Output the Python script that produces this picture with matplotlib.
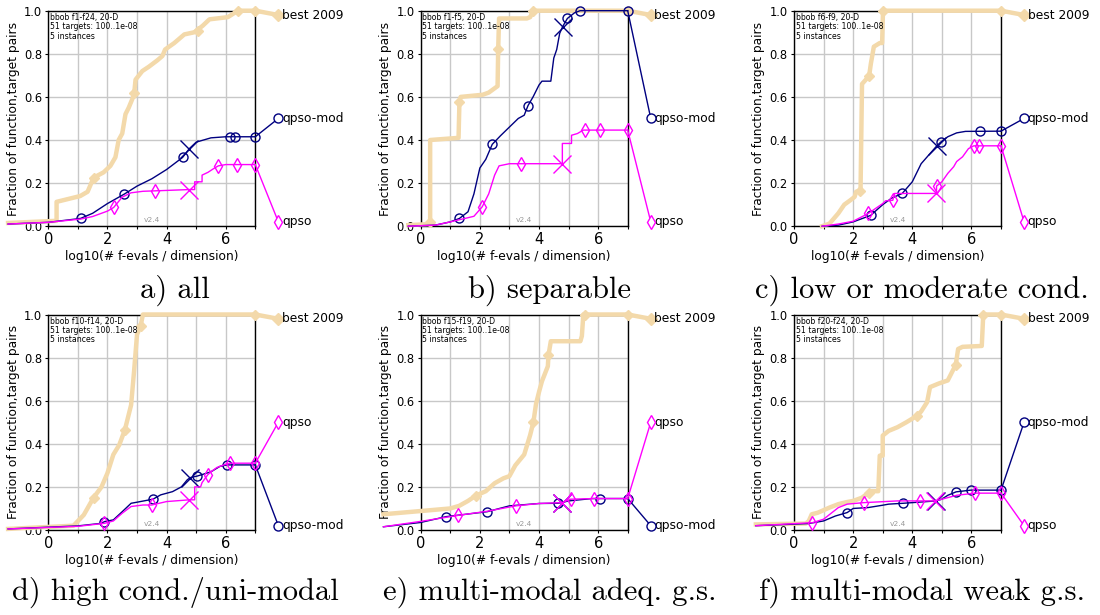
import matplotlib
matplotlib.use("Agg")
import matplotlib.pyplot as plt

# ---------------- data ----------------
# panel a) all
A_BEST = [(-1.36,0.015),(0.28,0.025),(0.28,0.113),(1.08,0.14),(1.33,0.16),(1.53,0.225),(1.87,0.25),(2.1,0.28),
          (2.27,0.32),(2.38,0.40),(2.5,0.43),(2.61,0.52),(2.72,0.55),(2.9,0.61),(2.95,0.68),(3.18,0.72),(3.4,0.74),
          (3.69,0.77),(3.86,0.79),(3.95,0.82),(4.26,0.85),(4.43,0.87),(4.6,0.89),(4.94,0.9),(5.22,0.93),(5.45,0.96),
          (6.07,0.97),(6.3,0.99),(6.41,1.0),(7,1.0)]
A_BEST_MK = [(1.53,0.225),(2.9,0.616),(5.05,0.905),(6.41,1.0),(7,1.0)]
A_MOD = [(-1.36,0.01),(0,0.018),(1.09,0.036),(1.5,0.06),(2.0,0.105),(2.57,0.149),(3.0,0.186),(3.5,0.22),(4.0,0.263),
         (4.54,0.319),(4.77,0.36),(5.0,0.39),(5.5,0.41),(6.0,0.415),(7,0.415)]
A_MOD_MK = [(1.09,0.036),(2.57,0.149),(4.54,0.319),(6.16,0.415),(6.3,0.415),(7,0.415)]
A_MOD_X = (4.77,0.36)
A_Q = [(-1.36,0.01),(0,0.018),(1.09,0.033),(1.5,0.045),(2.0,0.07),(2.21,0.087),(2.5,0.135),(2.8,0.155),(3.2,0.162),
       (3.6,0.164),(4.77,0.17),(4.95,0.17),(4.95,0.206),(5.2,0.206),(5.2,0.237),(5.4,0.25),(5.6,0.268),(5.75,0.28),
       (6.0,0.286),(7,0.286)]
A_Q_MK = [(2.21,0.087),(3.6,0.164),(5.75,0.28),(6.39,0.286),(7,0.286)]
A_Q_X = (4.77,0.17)
A_END = (0.98, 0.5, 0.02)   # label heights: best 2009, qpso-mod, qpso

# panel b) separable
B_BEST = [(-0.42,0.005),(0.32,0.01),(0.32,0.4),(1.28,0.41),(1.31,0.577),(1.35,0.6),(2.1,0.61),(2.3,0.62),(2.6,0.65),
          (2.62,0.82),(2.65,0.964),(3.59,0.964),(3.7,0.97),(3.81,1.0),(7,1.0)]
B_BEST_MK = [(0.32,0.02),(1.31,0.577),(2.62,0.82),(3.81,1.0),(7,1.0)]
B_MOD = [(-0.42,0.0),(0.5,0.005),(1.0,0.02),(1.31,0.036),(1.6,0.067),(1.8,0.15),(2.0,0.27),(2.2,0.31),(2.42,0.38),
         (2.7,0.42),(3.0,0.46),(3.3,0.5),(3.5,0.515),(3.63,0.56),(3.8,0.6),(4.0,0.655),(4.1,0.673),(4.4,0.673),
         (4.5,0.78),(4.6,0.82),(4.7,0.895),(4.8,0.926),(4.96,0.964),(5.2,0.99),(5.39,1.0),(7,1.0)]
B_MOD_MK = [(1.31,0.036),(2.42,0.38),(3.63,0.56),(4.96,0.964),(5.39,1.0),(7,1.0)]
B_MOD_X = (4.8,0.926)
B_Q = [(-0.42,0.0),(0.5,0.005),(1.0,0.02),(1.31,0.03),(1.8,0.046),(2.08,0.09),(2.3,0.15),(2.5,0.237),(2.65,0.28),
       (3.0,0.29),(4.79,0.29),(4.79,0.384),(5.1,0.384),(5.1,0.422),(5.3,0.43),(5.5,0.446),(7,0.446)]
B_Q_MK = [(2.08,0.09),(3.39,0.29),(5.56,0.446),(6.07,0.446),(7,0.446)]
B_Q_X = (4.79,0.29)
B_END = (0.98, 0.5, 0.02)

# panel c) low or moderate cond.
C_BEST = [(0.95,0.0),(1.2,0.012),(1.5,0.06),(1.7,0.1),(1.9,0.12),(2.05,0.136),(2.1,0.16),(2.25,0.165),(2.3,0.66),
          (2.54,0.697),(2.6,0.755),(2.7,0.833),(2.9,0.85),(2.98,0.85),(3.01,1.0),(7,1.0)]
C_BEST_MK = [(2.23,0.164),(2.54,0.697),(3.01,1.0),(7,1.0)]
C_MOD = [(0.95,0.0),(1.5,0.005),(2.0,0.02),(2.59,0.05),(3.0,0.1),(3.3,0.13),(3.66,0.152),(4.0,0.206),(4.3,0.29),
         (4.6,0.337),(4.83,0.373),(4.96,0.39),(5.2,0.415),(5.5,0.433),(5.8,0.44),(7,0.441)]
C_MOD_MK = [(2.59,0.05),(3.66,0.152),(4.96,0.39),(6.3,0.441),(7,0.441)]
C_MOD_X = (4.83,0.373)
C_Q = [(0.95,0.0),(1.5,0.01),(2.0,0.023),(2.51,0.059),(3.0,0.105),(3.1,0.118),(3.34,0.12),(3.4,0.152),(4.82,0.152),
       (4.82,0.186),(5.0,0.206),(5.2,0.245),(5.4,0.276),(5.5,0.3),(5.7,0.322),(5.9,0.36),(6.08,0.373),(7,0.373)]
C_Q_MK = [(2.51,0.059),(3.34,0.12),(4.82,0.186),(6.08,0.373),(6.24,0.373),(7,0.373)]
C_Q_X = (4.79,0.155)
C_END = (0.98, 0.5, 0.02)

# panel d) high cond./uni-modal
D_BEST = [(-1.36,0.005),(0.85,0.02),(1.2,0.07),(1.53,0.15),(1.8,0.2),(2.0,0.264),(2.2,0.35),(2.4,0.395),(2.59,0.465),
          (2.8,0.58),(2.9,0.736),(3.0,0.907),(3.12,0.946),(3.2,1.0),(7,1.0)]
D_BEST_MK = [(1.53,0.15),(2.59,0.465),(3.12,0.946),(7,1.0)]
D_MOD = [(-1.36,0.005),(1.0,0.019),(1.8,0.031),(1.9,0.039),(2.2,0.047),(2.5,0.085),(2.8,0.124),(3.0,0.129),
         (3.54,0.143),(3.8,0.163),(4.2,0.178),(4.5,0.2),(4.7,0.233),(4.8,0.243),(5.03,0.25),(5.5,0.27),(5.8,0.295),
         (6.04,0.302),(7,0.302)]
D_MOD_MK = [(1.9,0.039),(3.54,0.143),(5.03,0.25),(6.04,0.302),(7,0.302)]
D_MOD_X = (4.8,0.243)
D_Q = [(-1.36,0.005),(1.0,0.017),(1.9,0.031),(2.2,0.042),(2.5,0.078),(2.8,0.109),(3.2,0.116),(3.5,0.116),(4.0,0.132),
       (4.77,0.14),(4.95,0.14),(4.95,0.2),(5.15,0.2),(5.2,0.22),(5.39,0.256),(5.5,0.27),(5.7,0.29),(6.0,0.305),
       (6.14,0.31),(7,0.31)]
D_Q_MK = [(1.9,0.031),(3.5,0.116),(5.39,0.256),(6.14,0.31),(7,0.31)]
D_Q_X = (4.77,0.14)
D_END = (0.98, 0.02, 0.5)

# panel e) multi-modal adeq. g.s.
E_BEST = [(-1.26,0.073),(0,0.088),(1.0,0.1),(1.3,0.112),(1.6,0.135),(1.87,0.16),(2.2,0.18),(2.5,0.217),(2.8,0.24),
          (3.0,0.25),(3.2,0.3),(3.5,0.35),(3.7,0.44),(3.81,0.5),(3.9,0.585),(4.0,0.64),(4.1,0.69),(4.3,0.76),
          (4.32,0.81),(4.4,0.876),(5.4,0.876),(5.45,0.9),(5.5,1.0),(7,1.0)]
E_BEST_MK = [(1.87,0.16),(3.81,0.5),(4.32,0.81),(5.54,1.0),(7,1.0)]
E_MOD = [(-1.26,0.015),(0,0.035),(0.86,0.062),(2.25,0.085),(3.0,0.112),(4.0,0.123),(4.63,0.124),(4.77,0.127),
         (5.0,0.135),(5.8,0.146),(7,0.146)]
E_MOD_MK = [(0.86,0.062),(2.25,0.085),(4.63,0.124),(6.07,0.146),(7,0.146)]
E_MOD_X = (4.77,0.127)
E_Q = [(-1.26,0.015),(0,0.04),(1.27,0.068),(2.25,0.087),(3.21,0.112),(4.0,0.123),(4.77,0.127),(5.08,0.143),
       (5.87,0.146),(7,0.146)]
E_Q_MK = [(1.27,0.068),(3.21,0.112),(5.08,0.143),(5.87,0.146),(7,0.146)]
E_Q_X = (4.77,0.127)
E_END = (0.98, 0.02, 0.5)

# panel f) multi-modal weak g.s.
F_BEST = [(-1.29,0.026),(0.4,0.03),(0.5,0.042),(0.6,0.073),(0.8,0.08),(1.2,0.104),(1.5,0.12),(1.8,0.13),(2.0,0.135),
          (2.3,0.15),(2.53,0.174),(2.6,0.18),(2.85,0.18),(2.9,0.345),(3.0,0.345),(3.0,0.438),(3.2,0.46),(3.5,0.477),
          (3.8,0.5),(4.16,0.53),(4.3,0.55),(4.5,0.593),(4.6,0.663),(4.9,0.68),(5.2,0.694),(5.47,0.767),(5.55,0.84),
          (5.7,0.85),(6.35,0.854),(6.4,1.0),(7,1.0)]
F_BEST_MK = [(2.53,0.174),(4.16,0.53),(5.47,0.767),(6.4,1.0),(7,1.0)]
F_MOD = [(-1.29,0.02),(0.5,0.03),(1.0,0.042),(1.4,0.065),(1.8,0.081),(2.0,0.1),(2.5,0.104),(3.0,0.115),(3.2,0.12),
         (3.69,0.124),(4.0,0.127),(4.81,0.135),(5.0,0.143),(5.2,0.161),(5.48,0.177),(5.98,0.185),(7,0.185)]
F_MOD_MK = [(1.8,0.081),(3.69,0.124),(5.48,0.177),(5.98,0.185),(7,0.185)]
F_MOD_X = (4.81,0.135)
F_Q = [(-1.29,0.02),(0.62,0.034),(1.0,0.05),(1.5,0.104),(1.8,0.12),(2.36,0.127),(2.8,0.13),(3.5,0.135),(4.27,0.135),
       (4.78,0.135),(5.0,0.143),(5.5,0.161),(6.12,0.171),(7,0.171)]
F_Q_MK = [(0.62,0.034),(2.36,0.127),(4.27,0.135),(6.12,0.171),(7,0.171)]
F_Q_X = (4.78,0.135)
F_END = (0.98, 0.5, 0.02)

INFO = ["bbob f1-f24, 20-D", "bbob f1-f5, 20-D", "bbob f6-f9, 20-D",
        "bbob f10-f14, 20-D", "bbob f15-f19, 20-D", "bbob f20-f24, 20-D"]
TITLES = ["a) all", "b) separable", "c) low or moderate cond.",
          "d) high cond./uni-modal", "e) multi-modal adeq. g.s.", "f) multi-modal weak g.s."]
NAMES = ["best 2009", "qpso-mod", "qpso"]
XTICKS = [0, 1, 2, 3, 4, 5, 6, 7]
XTICKLABELS = ["0", "", "2", "", "4", "", "6", ""]
YTICKS = [0.0, 0.2, 0.4, 0.6, 0.8, 1.0]

PANELS = [
    (A_BEST, A_BEST_MK, A_MOD, A_MOD_MK, A_MOD_X, A_Q, A_Q_MK, A_Q_X, A_END),
    (B_BEST, B_BEST_MK, B_MOD, B_MOD_MK, B_MOD_X, B_Q, B_Q_MK, B_Q_X, B_END),
    (C_BEST, C_BEST_MK, C_MOD, C_MOD_MK, C_MOD_X, C_Q, C_Q_MK, C_Q_X, C_END),
    (D_BEST, D_BEST_MK, D_MOD, D_MOD_MK, D_MOD_X, D_Q, D_Q_MK, D_Q_X, D_END),
    (E_BEST, E_BEST_MK, E_MOD, E_MOD_MK, E_MOD_X, E_Q, E_Q_MK, E_Q_X, E_END),
    (F_BEST, F_BEST_MK, F_MOD, F_MOD_MK, F_MOD_X, F_Q, F_Q_MK, F_Q_X, F_END),
]

# ---------------- layout / style ----------------
W, H = 1100, 615
COL_LEFT = [48.3, 420.7, 794.0]
AX_W = 207.0
ROW_TOP = [10.7, 314.5]
AX_H = 215.5
TITLE_X = [175, 550, 922]
TITLE_Y = [290, 592]
COL_BEST = "#f3d9aa"
COL_MOD = "#000080"
COL_Q = "#ff00ff"
X_END = 7.78

fig = plt.figure(figsize=(W / 100, H / 100), dpi=100)


def xy(pts):
    return [p[0] for p in pts], [p[1] for p in pts]


for i, panel in enumerate(PANELS):
    best, best_mk, mod, mod_mk, mod_x, q, q_mk, q_x, ends = panel
    r, c = divmod(i, 3)
    left = COL_LEFT[c] / W
    bottom = 1 - (ROW_TOP[r] + AX_H) / H
    ax = fig.add_axes([left, bottom, AX_W / W, AX_H / H])
    ax.set_xlim(0, 7)
    ax.set_ylim(0, 1)
    ax.set_xticks(XTICKS)
    ax.set_xticklabels(XTICKLABELS)
    ax.set_yticks(YTICKS)
    ax.set_yticklabels(["%.1f" % v for v in YTICKS])
    ax.tick_params(axis="x", labelsize=10.5, length=2.5, width=0.8, pad=2)
    ax.tick_params(axis="y", labelsize=8.3, length=2.5, width=0.8, pad=2)
    ax.grid(True, color="#c8c8c8", lw=1.0)
    ax.set_axisbelow(True)
    for s in ax.spines.values():
        s.set_linewidth(1.0)
    ax.set_xlabel("log10(# f-evals / dimension)", fontsize=8.8, labelpad=2)
    ax.set_ylabel("Fraction of function,target pairs", fontsize=8.8, labelpad=3)

    # best 2009
    bx, by = xy(best)
    ax.plot(bx, by, color=COL_BEST, lw=3.2, clip_on=False, zorder=3)
    mx, my = xy(best_mk)
    ax.plot(mx, my, ls="none", marker="D", ms=5.5, color=COL_BEST, clip_on=False, zorder=3)
    ax.plot([7, X_END], [by[-1], ends[0]], color=COL_BEST, lw=3.2, clip_on=False, zorder=3)
    ax.plot([X_END], [ends[0]], marker="D", ms=6, color=COL_BEST, clip_on=False, zorder=3)

    # qpso-mod
    x1, y1 = xy(mod)
    ax.plot(x1, y1, color=COL_MOD, lw=1.0, clip_on=False, zorder=4)
    mx, my = xy(mod_mk)
    ax.plot(mx, my, ls="none", marker="o", ms=6.5, mfc="none", mec=COL_MOD, mew=1.0, clip_on=False, zorder=4)
    ax.plot([mod_x[0]], [mod_x[1]], marker="x", ms=13, mec=COL_MOD, mew=1.0, clip_on=False, zorder=4)
    ax.plot([7, X_END], [y1[-1], ends[1]], color=COL_MOD, lw=1.0, clip_on=False, zorder=4)
    ax.plot([X_END], [ends[1]], marker="o", ms=6.5, mfc="white", mec=COL_MOD, mew=1.0, clip_on=False, zorder=4)

    # qpso
    x2, y2 = xy(q)
    ax.plot(x2, y2, color=COL_Q, lw=1.0, clip_on=False, zorder=5)
    mx, my = xy(q_mk)
    ax.plot(mx, my, ls="none", marker="d", ms=7.5, mfc="none", mec=COL_Q, mew=1.0, clip_on=False, zorder=5)
    ax.plot([q_x[0]], [q_x[1]], marker="x", ms=13, mec=COL_Q, mew=1.0, clip_on=False, zorder=5)
    ax.plot([7, X_END], [y2[-1], ends[2]], color=COL_Q, lw=1.0, clip_on=False, zorder=5)
    ax.plot([X_END], [ends[2]], marker="d", ms=7.5, mfc="white", mec=COL_Q, mew=1.0, clip_on=False, zorder=5)

    for name, yv in zip(NAMES, ends):
        ax.text(X_END + 0.12, yv, name, fontsize=8.8, va="center", ha="left", clip_on=False)

    ax.text(0.06, 0.99, INFO[i] + "\n51 targets: 100..1e-08\n5 instances", fontsize=5.6,
            va="top", ha="left", linespacing=1.05, zorder=6)
    ax.text(3.5, 0.03, "v2.4", fontsize=5.4, color="#999999", ha="center", va="center")

    fig.text(TITLE_X[c] / W, 1 - TITLE_Y[r] / H, TITLES[i], fontsize=22, family="cmr10",
             ha="center", va="center")

fig.savefig("out.png", dpi=100)
